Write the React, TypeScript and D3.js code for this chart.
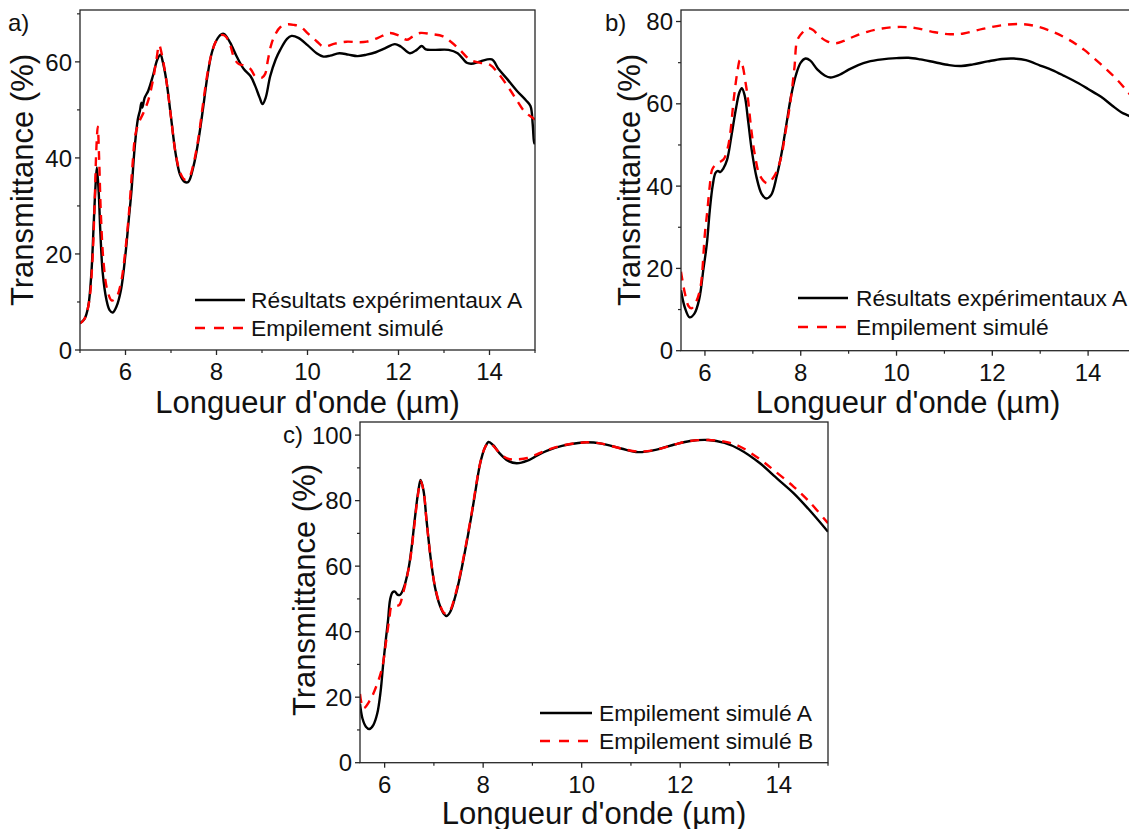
import React from "react";
import * as d3 from "d3";

// ---------- Data ----------
// Panel a
const aExpX = [5.0,5.1,5.18,5.25,5.3,5.34,5.37,5.41,5.45,5.5,5.58,5.65,5.72,5.8,5.9,6.0,6.07,6.13,6.2,6.27,6.32,6.35,6.37,6.42,6.5,6.6,6.7,6.77,6.82,6.9,7.0,7.1,7.2,7.3,7.38,7.5,7.6,7.7,7.8,7.9,8.0,8.1,8.17,8.3,8.45,8.6,8.75,8.85,8.95,9.01,9.08,9.18,9.3,9.4,9.55,9.65,9.8,10.0,10.2,10.35,10.5,10.7,10.9,11.1,11.3,11.5,11.7,11.92,12.05,12.25,12.4,12.51,12.6,12.8,13.1,13.3,13.5,13.6,13.8,14.05,14.2,14.4,14.6,14.8,14.9,14.95,14.98,15.0];
const aExpY = [5.6,6.5,9,16,26,34,38,33,24,16,10.5,8.3,7.8,9,12.5,20,27,33,42,48,50,51.5,50.5,52.5,54,57,60.5,61.5,60,56,48.5,41,36.5,35,35,38.5,43.5,50,57,62,64.5,65.7,65.8,64,61,58.5,57,55,52.5,51.2,52.5,57,60.5,62.5,64.8,65.4,65,63.5,61.8,61.1,61.3,61.8,61.5,61.2,61.5,62,62.8,63.7,63.2,61.8,62.5,63.3,62.6,62.5,62.5,61.8,59.8,59.6,60.1,60.5,58.5,56.3,54,52,50.8,47,43,44];
const aSimX = [5.0,5.1,5.2,5.27,5.32,5.36,5.39,5.42,5.46,5.52,5.6,5.7,5.8,5.9,6.0,6.08,6.15,6.22,6.3,6.4,6.5,6.6,6.68,6.74,6.8,6.9,7.0,7.1,7.2,7.3,7.4,7.5,7.6,7.7,7.8,7.9,8.0,8.12,8.2,8.3,8.4,8.5,8.6,8.75,8.85,9.0,9.07,9.13,9.2,9.28,9.4,9.55,9.7,9.85,10.0,10.2,10.35,10.6,10.86,11.1,11.3,11.55,11.81,12.0,12.18,12.3,12.47,12.7,12.98,13.15,13.35,13.5,13.6,13.8,14.01,14.2,14.45,14.6,14.74,14.85,15.0];
const aSimY = [5.5,6.5,10,18,30,42,46.5,40,28,18,12.5,10.3,11,14,21,29,38,45,47.5,49.5,52,56,60.5,63.5,61.5,56,48.5,41,37,35.5,36,39,44,51,57.5,62,64.5,65.6,65.3,63.5,60.5,59.5,59.3,58.5,57,56.7,57.5,60.4,63.5,65.5,67.2,67.8,67.7,67.3,66,64.3,63.2,63.8,64.2,64.1,64.2,65,66,65.5,64.6,65.2,66,65.8,65.3,64.2,62.5,61,60.3,59.8,59.4,57.5,54.2,52,50,49,48];

// Panel b
const bExpX = [5.5,5.58,5.68,5.78,5.88,5.97,6.04,6.1,6.16,6.22,6.27,6.32,6.38,6.46,6.55,6.65,6.72,6.77,6.83,6.9,6.98,7.08,7.18,7.28,7.38,7.5,7.6,7.7,7.8,7.9,8.0,8.1,8.2,8.35,8.5,8.62,8.8,9.0,9.2,9.4,9.7,10.0,10.25,10.5,10.8,11.1,11.35,11.6,11.9,12.2,12.45,12.7,13.0,13.25,13.5,13.8,14.0,14.27,14.5,14.7,14.88,15.0];
const bExpY = [14.7,10.5,8.1,9,12.5,20,26,34,40,43.2,43.7,43.4,44.2,46.3,52,59,62.8,63.8,62,56,48.5,42,38.2,37,37.8,42.5,48,55,62,67,70,71,70.5,68.3,66.9,66.4,67,68.3,69.4,70.2,70.8,71.1,71.2,70.8,70.1,69.4,69.2,69.6,70.3,70.9,71.0,70.6,69.3,68.2,66.8,65,63.6,61.7,59.6,57.9,56.9,55.5];
const bSimX = [5.5,5.58,5.66,5.72,5.8,5.9,6.0,6.05,6.1,6.15,6.22,6.3,6.39,6.47,6.53,6.6,6.68,6.73,6.78,6.85,6.9,6.97,7.05,7.15,7.3,7.45,7.58,7.68,7.79,7.87,7.93,8.05,8.15,8.25,8.4,8.55,8.73,8.9,9.1,9.39,9.7,10.08,10.4,10.8,11.12,11.4,11.8,12.2,12.59,12.9,13.22,13.5,13.75,13.92,14.15,14.4,14.61,14.8,15.0];
const bSimY = [19.2,14,10.8,10.3,11.5,15,28.6,34,40,44,45.2,45.8,46.5,49,53,61,68,70.6,69.5,65,61,53.5,47.1,42.5,40.7,42.5,46.5,53,61,69,75.5,77.5,78.4,78,76.3,75.2,74.7,75.3,76.3,77.5,78.3,78.7,78.4,77.4,76.9,77.1,78.2,79.1,79.4,78.9,77.7,76.2,74.5,73.1,70.8,68.2,65.8,63.3,60.5];

// Panel c
const cAX = [5.5,5.55,5.62,5.69,5.77,5.85,5.92,5.97,6.02,6.07,6.11,6.16,6.21,6.26,6.31,6.38,6.48,6.55,6.61,6.68,6.73,6.79,6.85,6.93,7.02,7.12,7.2,7.26,7.33,7.43,7.53,7.65,7.77,7.86,7.94,8.03,8.11,8.2,8.33,8.5,8.68,8.9,9.1,9.29,9.6,9.93,10.1,10.4,10.8,11.15,11.5,11.9,12.2,12.57,12.9,13.2,13.62,13.9,14.3,14.6,15.0];
const cAY = [18,13.5,11,10.3,11.5,15,22,30,37,43.6,49.7,52,52.2,51.3,51.2,53,58.8,66,74.1,82.5,86.3,83,74.1,63,53.7,48,45.5,44.8,46,50.5,56.8,66,76.1,84.5,91.4,96,97.9,97,94.5,92.2,91.4,92.2,93.8,95.2,96.7,97.6,97.8,97.4,95.9,94.8,95.5,97.2,98.2,98.5,97.6,95.7,91.4,87.6,82.3,77.5,70.5];
const cBX = [5.5,5.57,5.7,5.84,5.95,6.03,6.1,6.14,6.22,6.3,6.37,6.44,6.52,6.6,6.67,6.73,6.79,6.85,6.93,7.02,7.12,7.2,7.25,7.33,7.43,7.53,7.65,7.77,7.86,7.94,8.03,8.11,8.2,8.33,8.5,8.68,8.9,9.1,9.29,9.6,9.93,10.1,10.4,10.8,11.15,11.5,11.9,12.2,12.57,12.9,13.2,13.62,13.9,14.3,14.6,15.0];
const cBY = [21,16.6,19,23.7,29,37,44.5,47.6,47.8,48.2,51.5,55.8,62,72,81,86,83,74,63,54,48.3,45.8,45.5,46.5,51,57.3,66.5,76.5,85,91.5,96,97.6,96.8,94.6,92.8,92.6,93,94.2,95.4,96.8,97.6,97.8,97.4,95.9,95,95.5,97.2,98.2,98.5,98,96.6,92.6,89.3,84.3,80,73.1];

// Ticks & labels
const xMajorTicks = [6, 8, 10, 12, 14];
const xMinorA = [5, 7, 9, 11, 13, 15];
const xMinorBC = [7, 9, 11, 13, 15];
const yMajorAB = [0, 20, 40, 60];
const yMajorB = [0, 20, 40, 60, 80];
const yMinorAB = [10, 30, 50, 70];
const yMajorC = [0, 20, 40, 60, 80, 100];
const yMinorC = [10, 30, 50, 70, 90];

const xTitle = "Longueur d'onde (µm)";
const yTitle = "Transmittance (%)";
const legendA = ["Résultats expérimentaux A", "Empilement simulé"];
const legendC = ["Empilement simulé A", "Empilement simulé B"];

type Panel = {
  id: string;
  label: string;
  labelPos: [number, number];
  xDomain: [number, number];
  xRange: [number, number];
  yDomain: [number, number];
  yRange: [number, number];
  xMinor: number[];
  yMajor: number[];
  yMinor: number[];
  s1: [number[], number[]];
  s2: [number[], number[]];
  legend: string[];
  legendPos: { x0: number; x1: number; tx: number; y1: number; y2: number };
  yTitlePos: [number, number];
  xTitlePos: [number, number];
};

const panels: Panel[] = [
  {
    id: "a", label: "a)", labelPos: [8, 31],
    xDomain: [5, 15], xRange: [80, 535], yDomain: [0, 70.8], yRange: [350, 10],
    xMinor: xMinorA, yMajor: yMajorAB, yMinor: yMinorAB,
    s1: [aExpX, aExpY], s2: [aSimX, aSimY], legend: legendA,
    legendPos: { x0: 195, x1: 245, tx: 251, y1: 300, y2: 328 },
    yTitlePos: [33, 180], xTitlePos: [307.5, 413],
  },
  {
    id: "b", label: "b)", labelPos: [605, 31],
    xDomain: [5.5, 15], xRange: [681, 1136], yDomain: [0, 82.8], yRange: [350.7, 10],
    xMinor: xMinorBC, yMajor: yMajorB, yMinor: yMinorAB,
    s1: [bExpX, bExpY], s2: [bSimX, bSimY], legend: legendA,
    legendPos: { x0: 798, x1: 848, tx: 856, y1: 298, y2: 327 },
    yTitlePos: [640, 180], xTitlePos: [908, 413],
  },
  {
    id: "c", label: "c)", labelPos: [283, 443],
    xDomain: [5.5, 15], xRange: [360, 828], yDomain: [0, 104], yRange: [762.7, 422],
    xMinor: xMinorBC, yMajor: yMajorC, yMinor: yMinorC,
    s1: [cAX, cAY], s2: [cBX, cBY], legend: legendC,
    legendPos: { x0: 540, x1: 592, tx: 599, y1: 713, y2: 741 },
    yTitlePos: [315, 590], xTitlePos: [594, 824],
  },
];

const FONT = "'Liberation Sans', Arial, Helvetica, sans-serif";
const AXIS = "#262626";
const RED = "#ff0000";
const DASH = "9,7";

function PanelView({ p }: { p: Panel }) {
  const x = d3.scaleLinear().domain(p.xDomain).range(p.xRange);
  const y = d3.scaleLinear().domain(p.yDomain).range(p.yRange);
  const line = d3
    .line<[number, number]>()
    .x((d) => x(d[0]))
    .y((d) => y(d[1]))
    .curve(d3.curveCatmullRom.alpha(0.5));
  const pts = (s: [number[], number[]]) => s[0].map((v, i) => [v, s[1][i]] as [number, number]);
  const [x0, x1] = p.xRange;
  const [yb, yt] = p.yRange;
  const clipId = "clip-" + p.id;
  return (
    <g>
      <defs>
        <clipPath id={clipId}>
          <rect x={x0} y={yt} width={x1 - x0} height={yb - yt} />
        </clipPath>
      </defs>
      <g clipPath={`url(#${clipId})`}>
        <path d={line(pts(p.s1)) || ""} fill="none" stroke="#000" strokeWidth={2.4} strokeLinejoin="round" />
        <path d={line(pts(p.s2)) || ""} fill="none" stroke={RED} strokeWidth={2.4} strokeDasharray={DASH} />
      </g>
      {/* frame */}
      <rect x={x0} y={yt} width={x1 - x0} height={yb - yt} fill="none" stroke={AXIS} strokeWidth={1.3} />
      {/* x ticks */}
      {xMajorTicks.map((t) => (
        <g key={"xM" + t}>
          <line x1={x(t)} x2={x(t)} y1={yb} y2={yb + 5} stroke={AXIS} strokeWidth={1.3} />
          <text x={x(t)} y={yb + 30} textAnchor="middle" fontSize={24} fontFamily={FONT} fill="#111">{t}</text>
        </g>
      ))}
      {p.xMinor.map((t) => (
        <line key={"xm" + t} x1={x(t)} x2={x(t)} y1={yb} y2={yb + 3} stroke={AXIS} strokeWidth={1.2} />
      ))}
      {/* y ticks */}
      {p.yMajor.map((t) => (
        <g key={"yM" + t}>
          <line x1={x0 - 5} x2={x0} y1={y(t)} y2={y(t)} stroke={AXIS} strokeWidth={1.3} />
          <text x={x0 - 8} y={y(t)} dy="0.36em" textAnchor="end" fontSize={24} fontFamily={FONT} fill="#111">{t}</text>
        </g>
      ))}
      {p.yMinor.map((t) => (
        <line key={"ym" + t} x1={x0 - 3} x2={x0} y1={y(t)} y2={y(t)} stroke={AXIS} strokeWidth={1.2} />
      ))}
      {/* titles */}
      <text x={p.xTitlePos[0]} y={p.xTitlePos[1]} textAnchor="middle" fontSize={31} fontFamily={FONT} fill="#111">{xTitle}</text>
      <text transform={`translate(${p.yTitlePos[0]},${p.yTitlePos[1]}) rotate(-90)`} textAnchor="middle" fontSize={31} fontFamily={FONT} fill="#111">{yTitle}</text>
      <text x={p.labelPos[0]} y={p.labelPos[1]} fontSize={24} fontFamily={FONT} fill="#111">{p.label}</text>
      {/* legend */}
      <line x1={p.legendPos.x0} x2={p.legendPos.x1} y1={p.legendPos.y1} y2={p.legendPos.y1} stroke="#000" strokeWidth={2.4} />
      <line x1={p.legendPos.x0} x2={p.legendPos.x1} y1={p.legendPos.y2} y2={p.legendPos.y2} stroke={RED} strokeWidth={2.4} strokeDasharray="10,9" />
      <text x={p.legendPos.tx} y={p.legendPos.y1} dy="0.36em" fontSize={22.8} fontFamily={FONT} fill="#111">{p.legend[0]}</text>
      <text x={p.legendPos.tx} y={p.legendPos.y2} dy="0.36em" fontSize={22.8} fontFamily={FONT} fill="#111">{p.legend[1]}</text>
    </g>
  );
}

export default function App() {
  return (
    <svg
      width={1129}
      height={829}
      style={{ position: "fixed", left: 0, top: 0, background: "#fff" }}
    >
      <rect x={0} y={0} width={1129} height={829} fill="#fff" />
      {panels.map((p) => (
        <PanelView key={p.id} p={p} />
      ))}
    </svg>
  );
}
